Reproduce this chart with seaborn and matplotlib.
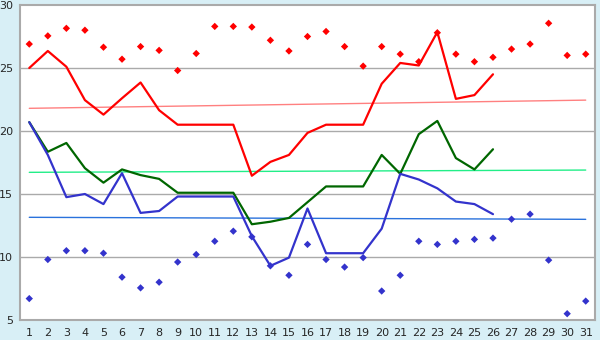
import numpy as np
import pandas as pd
import seaborn as sns
import matplotlib.pyplot as plt

days = list(range(1, 27))
all_days = list(range(1, 32))

avg_temp = [25.0, 26.35, 25.1, 22.45, 21.3, 22.6, 23.85, 21.65, 20.5, 20.5,
            20.5, 20.5, 16.45, 17.55, 18.1, 19.85, 20.5, 20.5, 20.5, 23.75,
            25.4, 25.2, 27.85, 22.55, 22.85, 24.5]
mid_temp = [20.7, 18.35, 19.05, 17.05, 15.9, 16.95, 16.5, 16.2, 15.1, 15.1,
            15.1, 15.1, 12.6, 12.8, 13.1, 14.35, 15.6, 15.6, 15.6, 18.1,
            16.6, 19.75, 20.8, 17.85, 16.95, 18.55]
low_temp = [20.7, 18.1, 14.75, 15.0, 14.2, 16.65, 13.5, 13.65, 14.8, 14.8,
            14.8, 14.8, 11.65, 9.3, 9.95, 13.85, 10.3, 10.3, 10.3, 12.25,
            16.6, 16.15, 15.45, 14.4, 14.2, 13.4]

max_points = [26.9, 27.55, 28.15, 28.0, 26.65, 25.7, 26.7, 26.4, 24.8, 26.15,
              28.3, 28.3, 28.25, 27.2, 26.35, 27.5, 27.9, 26.7, 25.15, 26.7,
              26.1, 25.5, 27.8, 26.1, 25.5, 25.85, 26.5, 26.9, 28.55, 26.0, 26.1]
min_points = [6.7, 9.8, 10.5, 10.5, 10.3, 8.4, 7.55, 8.0, 9.6, 10.2,
              11.25, 12.05, 11.6, 9.3, 8.55, 11.0, 9.8, 9.2, 9.95, 7.3,
              8.55, 11.25, 11.0, 11.25, 11.4, 11.5, 13.0, 13.4, 9.75, 5.5, 6.5]

trend_days = [1, 31]
trend_red = [21.8, 22.45]
trend_green = [16.72, 16.9]
trend_blue = [13.15, 12.99]

bg = '#d8eff6'
sns.set_style('white')
plt.rcParams['font.family'] = ['DejaVu Sans']

fig = plt.figure(figsize=(6, 3.4), dpi=100, facecolor=bg)
ax = fig.add_axes([20 / 600, 1 - 320 / 340, 575 / 600, 315 / 340])
ax.set_facecolor('white')

for y in [10, 15, 20, 25]:
    ax.axhline(y, color='#aaaaaa', lw=1, zorder=0)

sns.lineplot(x=trend_days, y=trend_red, color='#ff8080', lw=1, ax=ax)
sns.lineplot(x=trend_days, y=trend_green, color='#22ee88', lw=1, ax=ax)
sns.lineplot(x=trend_days, y=trend_blue, color='#2a72dc', lw=1, ax=ax)

sns.lineplot(x=days, y=avg_temp, color='#ff0000', lw=1.6, ax=ax)
sns.lineplot(x=days, y=mid_temp, color='#006600', lw=1.6, ax=ax)
sns.lineplot(x=days, y=low_temp, color='#3333cc', lw=1.6, ax=ax)

sns.scatterplot(x=all_days, y=max_points, color='#ff0000', marker='D', s=14,
                edgecolor='none', ax=ax, zorder=5)
sns.scatterplot(x=all_days, y=min_points, color='#3333cc', marker='D', s=14,
                edgecolor='none', ax=ax, zorder=5)

ax.set_xlim(0.5, 31.5)
ax.set_ylim(5, 30)
ax.set_xticks(all_days)
ax.set_yticks([5, 10, 15, 20, 25, 30])
ax.tick_params(axis='both', direction='out', length=4, width=1, color='black',
               labelsize=8, pad=2)
ax.tick_params(axis='y', pad=1)
for s in ax.spines.values():
    s.set_color('#aaaaaa')
    s.set_linewidth(1.5)
ax.set_xlabel('')
ax.set_ylabel('')

fig.savefig('out.png', dpi=100, facecolor=bg)
